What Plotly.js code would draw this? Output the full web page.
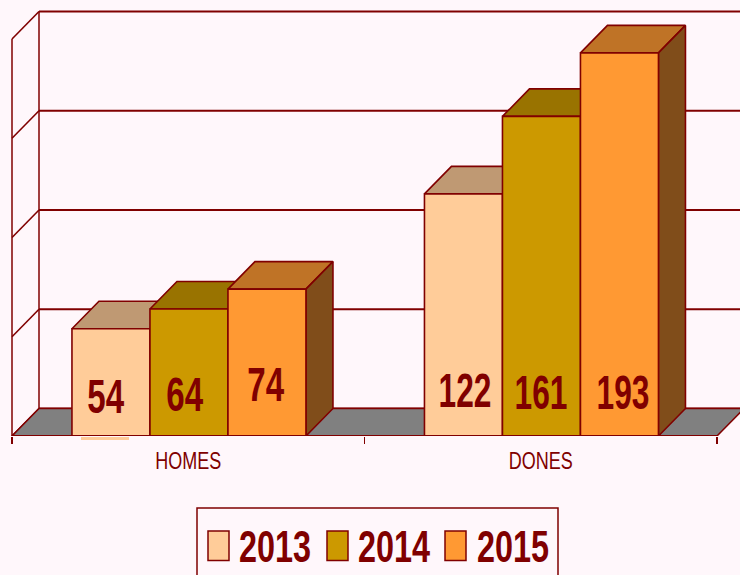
<!DOCTYPE html>
<html>
<head>
<meta charset="utf-8">
<script src="https://cdn.plot.ly/plotly-3.0.1.min.js"></script>
<style>html,body{margin:0;padding:0;background:#FFF7FB;overflow:hidden}</style>
</head>
<body>
<div id="chart" style="width:740px;height:575px"></div>
<script>
// ---- data ----
const categories = ['HOMES', 'DONES'];
const seriesNames = ['2013', '2014', '2015'];
const values2013 = [54, 122];
const values2014 = [64, 161];
const values2015 = [74, 193];
const gridValues = [0, 50, 100, 150, 200];

// ---- styles and geometry ----
const frontColors = ['#FFCC99', '#CC9900', '#FF9933'];
const topColors = ['#BF9973', '#997300', '#BF7326'];
const sideColors = ['#804D1A', '#664D00', '#804D1A'];
const lineColor = '#800000';
const floorColor = '#808080';
const bgColor = '#FFF7FB';

const W = 740, H = 575, baseY = 436;
const catPx = 352.5, leftPx = 12, unitPx = 1.985;
const depthX = 27 / catPx, depthY = 27.5 / unitPx;
const barW = 78 / catPx;
const xMin = -0.5 - leftPx / catPx;
const xMax = xMin + W / catPx;
const yMax = baseY / unitPx;
const allSeries = [values2013, values2014, values2015];
// label placement, in axis units: vertical centre and sideways nudge
const labelY = [[20, 21, 26], [23, 22, 22]];
const labelNudge = [[-0.012, -0.01, -0.002], [0.007, 0, 0.012]];

const traces = [];
function poly(xs, ys, fill, width) {
  traces.push({
    type: 'scatter', mode: 'lines', x: xs, y: ys, fill: 'toself', fillcolor: fill,
    line: {color: lineColor, width: width === undefined ? 1.6 : width},
    hoverinfo: 'skip', showlegend: false, cliponaxis: false
  });
}
function lines(xs, ys, width) {
  traces.push({
    type: 'scatter', mode: 'lines', x: xs, y: ys,
    line: {color: lineColor, width: width}, connectgaps: false,
    hoverinfo: 'skip', showlegend: false, cliponaxis: false
  });
}
const x0 = -0.5, x1 = 1.5;

// walls: back gridlines and the left wall's diagonals
const gx = [], gy = [], dx = [], dy = [];
gridValues.forEach(v => {
  gx.push(x0 + depthX, x1 + depthX, null); gy.push(v + depthY, v + depthY, null);
  dx.push(x0, x0 + depthX, null); dy.push(v, v + depthY, null);
});
lines(gx, gy, 1.8);
lines(dx, dy, 1.6);
lines([x0, x0, null, x0 + depthX, x0 + depthX],
      [0, gridValues[4], null, depthY, gridValues[4] + depthY], 1.5);
// floor
poly([x0, x1, x1 + depthX, x0 + depthX, x0], [0, 0, depthY, depthY, 0], floorColor, 1.5);

// bars: top, side and front faces, painted left to right
categories.forEach((c, ci) => {
  seriesNames.forEach((s, si) => {
    const v = allSeries[si][ci];
    const a = ci + (si - 1.5) * barW + 0.002, b = a + barW;
    poly([a, b, b + depthX, a + depthX, a], [v, v, v + depthY, v + depthY, v], topColors[si]);
    poly([b, b + depthX, b + depthX, b, b], [0, depthY, v + depthY, v, 0], sideColors[si]);
    poly([a, b, b, a, a], [0, 0, v, v, 0], frontColors[si]);
  });
});
// front floor edge
lines([x0, x1], [0, 0], 2);

// data labels
const annotations = [];
categories.forEach((c, ci) => {
  seriesNames.forEach((s, si) => {
    annotations.push({
      x: ci + (si - 1) * barW + labelNudge[ci][si], y: labelY[ci][si], xref: 'x', yref: 'y',
      text: String(allSeries[si][ci]), showarrow: false,
      font: {family: 'Liberation Sans, Arial, sans-serif', size: 48, color: lineColor, weight: 700},
      xanchor: 'center', yanchor: 'middle', captureevents: false
    });
  });
});

// legend box, in page pixels
const px = x => x / W;
const py = y => 1 - y / baseY;
const shapes = [
  // stray label underline beneath the first bar
  {type: 'rect', xref: 'paper', yref: 'paper', x0: px(81), x1: px(129), y0: py(437), y1: py(440),
   fillcolor: '#FFCC99', line: {width: 0}},
  {type: 'rect', xref: 'paper', yref: 'paper', x0: px(197), x1: px(558), y0: py(508), y1: py(590),
   fillcolor: bgColor, line: {color: lineColor, width: 1.5}}
];
const swatchLeft = [208, 327, 445];
const legendTextCentre = [275, 394, 512.5];
seriesNames.forEach((s, i) => {
  shapes.push({type: 'rect', xref: 'paper', yref: 'paper',
    x0: px(swatchLeft[i]), x1: px(swatchLeft[i] + 21), y0: py(531), y1: py(560.5),
    fillcolor: frontColors[i], line: {color: lineColor, width: 1.5}});
  annotations.push({
    x: px(legendTextCentre[i]), y: py(546), xref: 'paper', yref: 'paper',
    text: s, showarrow: false,
    font: {family: 'Liberation Sans, Arial, sans-serif', size: 45, color: lineColor, weight: 700},
    xanchor: 'center', yanchor: 'middle'
  });
});

const layout = {
  width: W, height: H, autosize: false,
  margin: {l: 0, r: 0, t: 0, b: H - baseY, pad: 0},
  paper_bgcolor: bgColor, plot_bgcolor: bgColor,
  showlegend: false, hovermode: false,
  xaxis: {
    type: 'linear', range: [xMin, xMax],
    tickmode: 'array', tickvals: [0, 1], ticktext: categories,
    ticks: '', ticklabelstandoff: 8,
    minor: {tickmode: 'array', tickvals: [-0.5, 0.5, 1.5], ticks: 'outside', ticklen: 7, tickwidth: 1.2,
            tickcolor: lineColor, showgrid: false},
    showgrid: false, zeroline: false, showline: false, fixedrange: true,
    tickfont: {family: 'Liberation Sans, Arial, sans-serif', size: 24, color: lineColor}
  },
  yaxis: {
    range: [0, yMax], showgrid: false, zeroline: false, showline: false,
    showticklabels: false, ticks: '', fixedrange: true
  },
  shapes, annotations
};
Plotly.newPlot('chart', traces, layout, {displayModeBar: false, staticPlot: true}).then(() => {
  // the reference's text is condensed: narrow each label about its own centre
  function squeeze(el, s) {
    const b = el.getBBox();
    const c = b.x + b.width / 2;
    const t = el.getAttribute('transform') || '';
    el.setAttribute('transform', `${t} translate(${c},0) scale(${s},1) translate(${-c},0)`);
  }
  document.querySelectorAll('.annotation-text').forEach(el => {
    const n = el.textContent.length;
    squeeze(el, n === 2 ? 0.69 : n === 3 ? 0.66 : 0.72);
  });
  document.querySelectorAll('.xtick text').forEach(el => squeeze(el, 0.75));
});
</script>
</body>
</html>
